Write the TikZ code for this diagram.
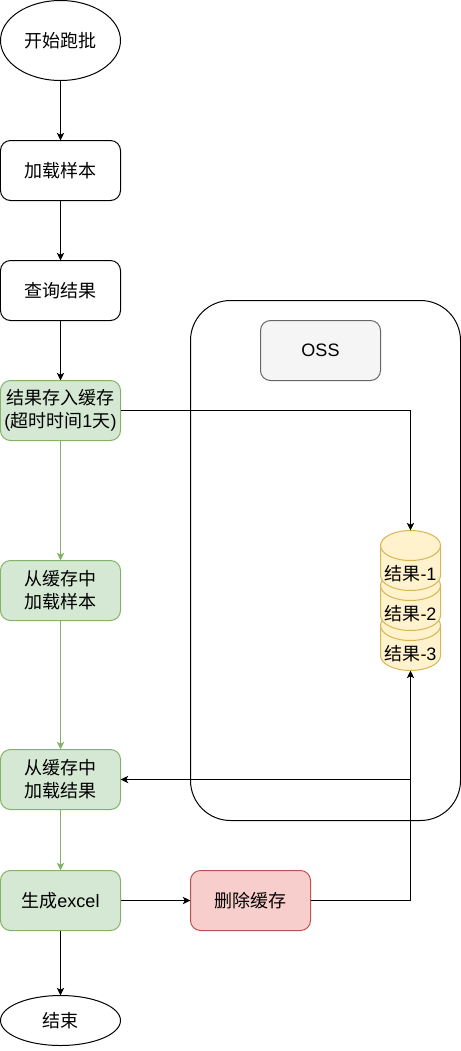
\documentclass[tikz,border=0pt]{standalone}
\usepackage{fontspec}
\setmainfont{Liberation Sans}
\newfontfamily\cjk{Noto Sans CJK SC}
\newfontfamily\lat{Liberation Sans}
\usetikzlibrary{arrows.meta,shapes.geometric}
\definecolor{gfill}{HTML}{D5E8D4}
\definecolor{gline}{HTML}{82B366}
\definecolor{rfill}{HTML}{F8CECC}
\definecolor{rline}{HTML}{B85450}
\definecolor{yfill}{HTML}{FFF2CC}
\definecolor{yline}{HTML}{D6B656}
\definecolor{ofill}{HTML}{F5F5F5}
\definecolor{oline}{HTML}{666666}
\tikzset{
  x=0.75pt,y=-0.75pt,
  every node/.style={font=\cjk\fontsize{13.5}{17.4}\selectfont,align=center,inner sep=0pt,outer sep=0pt,text=black},
  boxbase/.style={draw,line width=0.75pt,rounded corners=7.5pt,minimum width=90pt,minimum height=45pt},
  plain/.style={boxbase,fill=white,draw=black},
  green/.style={boxbase,fill=gfill,draw=gline},
  red/.style={boxbase,fill=rfill,draw=rline},
  oss/.style={boxbase,fill=ofill,draw=oline},
  term/.style={draw=black,fill=white,line width=0.75pt,shape=ellipse,minimum width=90pt},
  arr/.style={-{Stealth[length=5.8pt,width=5.5pt,inset=1.5pt]},line width=0.75pt,draw=black},
  garr/.style={-{Stealth[length=5.8pt,width=5.5pt,inset=1.5pt]},line width=0.75pt,draw=gline},
  cylfill/.style={fill=yfill,draw=yline,line width=0.75pt},
}
\newcommand{\cyl}[1]{%
  \path[cylfill] (381,#1+15) arc[start angle=180,end angle=360,x radius=30,y radius=15]
    -- (441,#1+45) arc[start angle=0,end angle=180,x radius=30,y radius=15] -- cycle;
  \draw[yline,line width=0.75pt] (381,#1+15) arc[start angle=180,end angle=0,x radius=30,y radius=15];
}
\begin{document}
\begin{tikzpicture}
\useasboundingbox (0.5,0.5) rectangle (461.5,1051.5);
\fill[white] (0.5,0.5) rectangle (461.5,1051.5);
\draw[black,line width=0.75pt,rounded corners=30pt] (191,301) rectangle (461,821);
\node[oss] (oss) at (321,351) {\lat OSS};
\cyl{611}
\cyl{571}
\cyl{531}
\node (t1) at (411,574) {结果{\lat -1}};
\node (t2) at (411,614) {结果{\lat -2}};
\node (t3) at (411,654) {结果{\lat -3}};
\coordinate (ctop) at (411,531);
\coordinate (cbot) at (411,671);
\node[term,minimum height=60pt] (start) at (61,41) {开始跑批};
\node[plain] (load) at (61,171) {加载样本};
\node[plain] (query) at (61,291) {查询结果};
\node[green] (save) at (61,411) {结果存入缓存\\{\lat (}超时时间{\lat 1}天{\lat )}};
\node[green] (loads) at (61,591) {从缓存中\\加载样本};
\node[green] (loadr) at (61,780) {从缓存中\\加载结果};
\node[green] (excel) at (61,901) {生成{\lat excel}};
\node[red] (del) at (251,901) {删除缓存};
\node[term,minimum height=37.5pt] (end) at (61,1021) {结束};
\draw[arr] (start) -- (load);
\draw[arr] (load) -- (query);
\draw[arr] (query) -- (save);
\draw[garr] (save) -- (loads);
\draw[garr] (loads) -- (loadr);
\draw[garr] (loadr) -- (excel);
\draw[arr] (excel) -- (end);
\draw[arr] (excel) -- (del);
\draw[arr] (save.east) -- (ctop |- save.east) -- (ctop);
\draw[arr] (del.east) -- (cbot |- del.east) -- (cbot);
\draw[arr] (cbot |- loadr.east) -- (loadr.east);
\end{tikzpicture}
\end{document}
